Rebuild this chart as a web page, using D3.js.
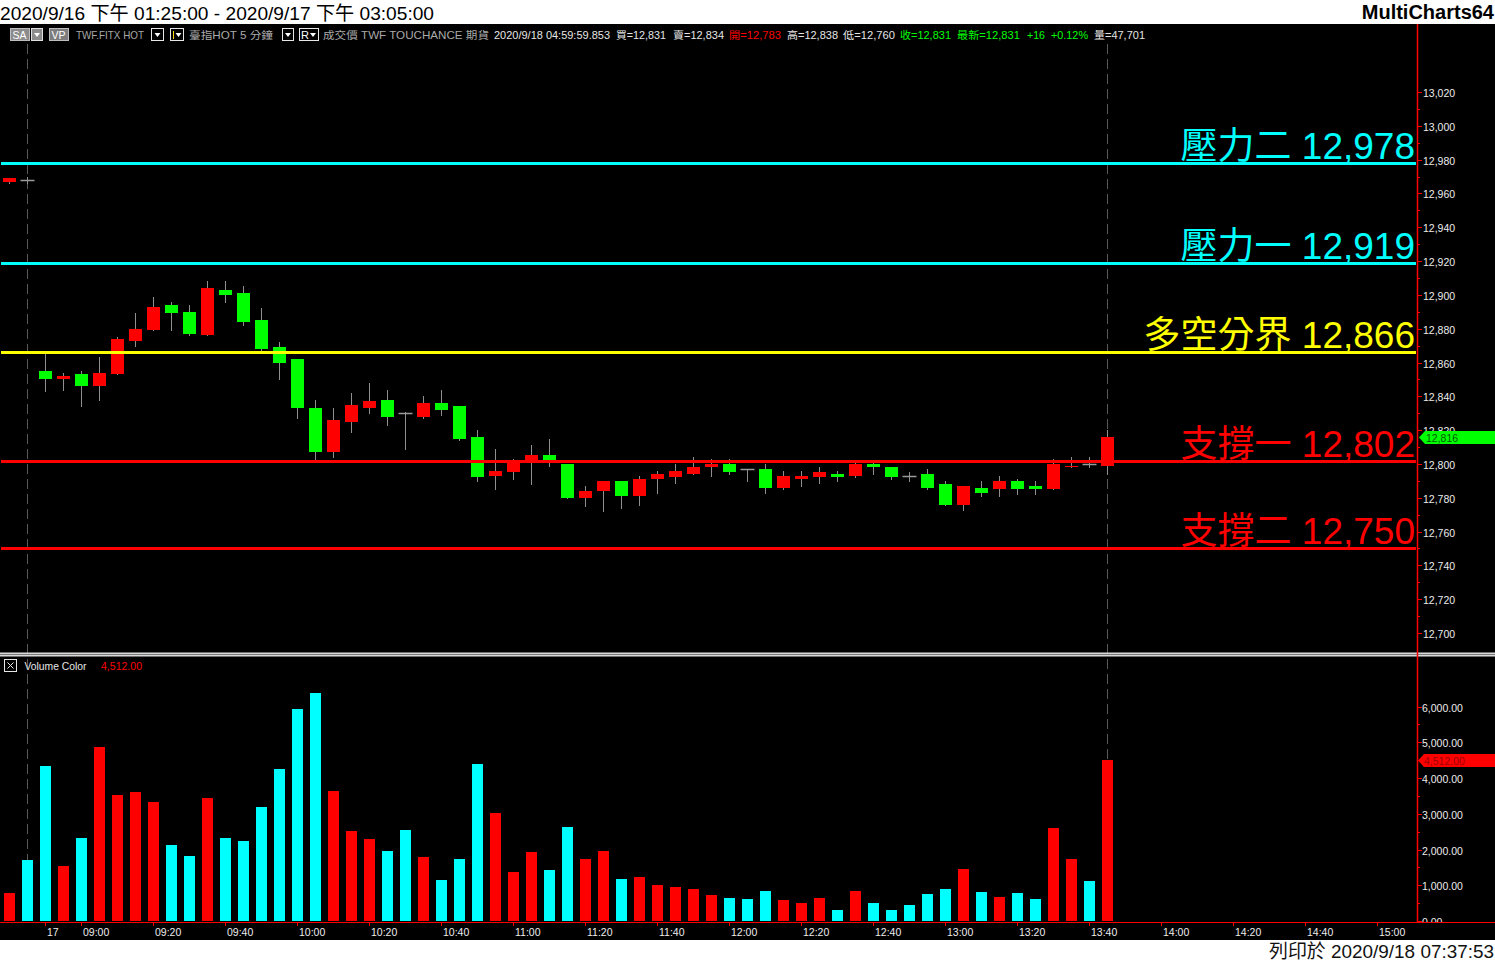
<!DOCTYPE html>
<html><head><meta charset="utf-8">
<script src="https://cdn.jsdelivr.net/npm/d3@7"></script>
<style>
html,body{margin:0;padding:0;background:#fff;overflow:hidden}
svg{display:block}
text{font-family:"Liberation Sans","Noto Sans CJK TC",sans-serif}
</style></head><body>
<svg id="c" width="1495" height="962"></svg>
<script>
// ---------------- DATA ----------------
const times = ["9/16 13:40","9/16 13:45",
 "08:50","08:55","09:00","09:05","09:10","09:15","09:20","09:25","09:30","09:35",
 "09:40","09:45","09:50","09:55","10:00","10:05","10:10","10:15","10:20","10:25",
 "10:30","10:35","10:40","10:45","10:50","10:55","11:00","11:05","11:10","11:15",
 "11:20","11:25","11:30","11:35","11:40","11:45","11:50","11:55","12:00","12:05",
 "12:10","12:15","12:20","12:25","12:30","12:35","12:40","12:45","12:50","12:55",
 "13:00","13:05","13:10","13:15","13:20","13:25","13:30","13:35","13:40","13:45"];
const futureSlots = ["13:50","13:55","14:00","14:05","14:10","14:15","14:20","14:25",
 "14:30","14:35","14:40","14:45","14:50","14:55","15:00","15:05","15:10"];
const opens  = [12967,12968,12855,12850,12853,12846,12853,12873,12879,12894,12890,12876,12903,12901,12885,12869,12862,12833,12807,12825,12833,12838,12830,12828,12836,12834,12816,12793,12795,12802,12805,12800,12780,12784,12790,12781,12791,12792,12794,12798,12800,12797,12797,12786,12791,12792,12794,12793,12800,12798,12793,12794,12788,12776,12786,12785,12790,12787,12785,12798,12800,12799];
const highs  = [12969,12970,12865,12854,12855,12863,12875,12889,12899,12896,12894,12908,12908,12905,12892,12872,12862,12838,12833,12842,12848,12844,12831,12840,12844,12834,12820,12809,12803,12811,12815,12800,12787,12790,12790,12793,12796,12800,12804,12803,12803,12797,12800,12796,12796,12798,12796,12801,12801,12798,12795,12797,12790,12787,12790,12793,12791,12790,12803,12804,12804,12820];
const lows   = [12966,12966,12843,12844,12834,12838,12853,12870,12879,12879,12876,12876,12896,12882,12867,12850,12827,12803,12804,12819,12830,12823,12809,12827,12829,12814,12790,12785,12791,12788,12799,12780,12775,12772,12774,12776,12783,12789,12794,12793,12794,12790,12783,12785,12787,12789,12790,12792,12794,12791,12790,12785,12776,12773,12781,12781,12782,12782,12785,12798,12798,12794];
const closes = [12969,12968,12850,12852,12846,12854,12874,12880,12893,12889,12877,12904,12900,12884,12868,12860,12833,12807,12826,12835,12837,12828,12830,12836,12832,12815,12792,12796,12802,12805,12802,12780,12784,12790,12781,12791,12794,12796,12798,12800,12795,12797,12786,12793,12793,12795,12792,12800,12798,12792,12793,12786,12776,12787,12783,12790,12785,12785,12800,12799,12800,12816];
const volumes = [780,1700,4330,1540,2320,4860,3520,3600,3320,2120,1820,3440,2320,2240,3180,4250,5920,6370,3630,2510,2290,1950,2540,1790,1150,1730,4390,3020,1370,1930,1430,2630,1730,1960,1170,1230,1010,950,890,730,640,620,840,590,500,640,310,840,500,310,450,750,890,1450,810,670,780,620,2600,1730,1120,4512];

const timeTickSlots  = ["08:50","09:00","09:20","09:40","10:00","10:20","10:40","11:00","11:20","11:40","12:00","12:20","12:40","13:00","13:20","13:40","14:00","14:20","14:40","15:00"];
const timeTickLabels = ["17","09:00","09:20","09:40","10:00","10:20","10:40","11:00","11:20","11:40","12:00","12:20","12:40","13:00","13:20","13:40","14:00","14:20","14:40","15:00"];
const priceTicks  = [12700,12720,12740,12760,12780,12800,12820,12840,12860,12880,12900,12920,12940,12960,12980,13000,13020];
const volumeTicks = [0,1000,2000,3000,4000,5000,6000];

const levelNames  = ["壓力二","壓力一","多空分界","支撐一","支撐二"];
const levelValues = [12978,12919,12866,12802,12750];

const titleText  = "2020/9/16 下午 01:25:00 - 2020/9/17 下午 03:05:00";
const brandText  = "MultiCharts64";
const printText  = "列印於 2020/9/18 07:37:53";
const lastPrice  = 12816;
const lastVolume = 4512;

// ---------------- DRAW ----------------
const W = 1495, H = 962;
const svg = d3.select("#c");
svg.append("rect").attr("width", W).attr("height", H).attr("fill", "#fff");
svg.append("rect").attr("x", 0).attr("y", 24).attr("width", W).attr("height", 916).attr("fill", "#000");

const levelColors = ["#00ffff","#00ffff","#ffff00","#ff0000","#ff0000"];
const axisX = 1417;

const bars = times.map((t, i) => ({t, o: opens[i], h: highs[i], l: lows[i], c: closes[i], v: volumes[i]}));
const slots = times.concat(futureSlots);
const x = d3.scalePoint().domain(slots).range([9.5, 9.5 + 18 * (slots.length - 1)]);
const y = d3.scaleLinear().domain([12700, 13020]).range([633, 92]);
const vy = d3.scaleLinear().domain([0, 6000]).range([921, 706.5]);

const fmt = d3.format(",");
const fmt2 = d3.format(",.2f");

// title bar
svg.append("text").attr("x", 0).attr("y", 20).attr("font-size", 19).attr("fill", "#000")
  .attr("textLength", 434).attr("lengthAdjust", "spacingAndGlyphs").text(titleText);
svg.append("text").attr("x", 1494).attr("y", 19).attr("text-anchor", "end").attr("font-size", 20)
  .attr("font-weight", "bold").attr("fill", "#000").text(brandText);
svg.append("text").attr("x", 1494).attr("y", 958).attr("text-anchor", "end").attr("font-size", 19)
  .attr("fill", "#111").attr("textLength", 225).attr("lengthAdjust", "spacingAndGlyphs").text(printText);

// info line
const info = svg.append("g");
function box(x0, w, fill, stroke) {
  info.append("rect").attr("x", x0 + 0.5).attr("y", 28.5).attr("width", w).attr("height", 12)
    .attr("fill", fill).attr("stroke", stroke);
}
function tri(cx) {
  info.append("path").attr("d", `M${cx-3},33 L${cx+3},33 L${cx},37 Z`).attr("fill", "#fff");
}
function itxt(x0, w, s, col, size) {
  info.append("text").attr("x", x0).attr("y", 39).attr("font-size", size || 10.5).attr("fill", col)
    .attr("textLength", w).attr("lengthAdjust", "spacingAndGlyphs").text(s);
}
box(10, 19, "#8c8c8c", "#bdbdbd"); itxt(12.5, 14, "SA", "#fff");
box(31, 11, "#8c8c8c", "#e0e0e0"); tri(37);
box(49, 19, "#7d7d7d", "#bdbdbd"); itxt(51.5, 14, "VP", "#fff");
itxt(76, 68, "TWF.FITX HOT", "#a9a9a9");
box(151, 12, "#000", "#e8e8e8"); tri(157.5);
box(170, 13, "#000", "#e8e8e8");
info.append("line").attr("x1", 173.5).attr("x2", 173.5).attr("y1", 31).attr("y2", 39).attr("stroke", "#ffd200");
tri(178.5);
itxt(189, 84, "臺指HOT  5 分鐘", "#a9a9a9");
box(282, 11, "#000", "#e8e8e8"); tri(288);
box(299, 19, "#000", "#e8e8e8"); itxt(301, 8, "R", "#fff"); tri(313);
itxt(323, 166, "成交價  TWF  TOUCHANCE  期貨", "#a9a9a9");
itxt(494, 116, "2020/9/18  04:59:59.853", "#e6e6e6", 10);
itxt(616, 50, "買=12,831", "#e6e6e6");
itxt(673, 51, "賣=12,834", "#e6e6e6");
itxt(729, 52, "開=12,783", "#ff0000");
itxt(787, 51, "高=12,838", "#e6e6e6");
itxt(843, 52, "低=12,760", "#e6e6e6");
itxt(900, 51, "收=12,831", "#00ff00");
itxt(957, 63, "最新=12,831", "#00ff00");
itxt(1027, 18, "+16", "#00ff00");
itxt(1051, 37, "+0.12%", "#00ff00");
itxt(1094, 51, "量=47,701", "#e6e6e6");

// dashed vertical session / cursor lines
[times[1], times[times.length - 1]].forEach(t => {
  svg.append("line").attr("x1", x(t)).attr("x2", x(t)).attr("y1", 44).attr("y2", 921)
    .attr("stroke", "#5a5a5a").attr("stroke-dasharray", "10,5");
});

// price pane
const price = svg.append("g");
const cColor = d => d.c > d.o ? "#ff0000" : d.c < d.o ? "#00ff00" : "#9a9a9a";
price.selectAll("line.wick").data(bars).join("line").attr("class", "wick")
  .attr("x1", d => x(d.t)).attr("x2", d => x(d.t))
  .attr("y1", d => Math.round(y(d.h))).attr("y2", d => Math.round(y(d.l)) + 1)
  .attr("stroke", "#8f8f8f").attr("stroke-width", 1);
price.selectAll("rect.body").data(bars.filter(d => d.o !== d.c)).join("rect").attr("class", "body")
  .attr("x", d => x(d.t) - 6.5).attr("width", 13)
  .attr("y", d => Math.round(y(Math.max(d.o, d.c))))
  .attr("height", d => Math.max(1, Math.round(y(Math.min(d.o, d.c))) - Math.round(y(Math.max(d.o, d.c)))))
  .attr("fill", cColor);
price.selectAll("line.doji").data(bars.filter(d => d.o === d.c)).join("line").attr("class", "doji")
  .attr("x1", d => x(d.t) - 7).attr("x2", d => x(d.t) + 7)
  .attr("y1", d => Math.round(y(d.o)) + 0.5).attr("y2", d => Math.round(y(d.o)) + 0.5)
  .attr("stroke", "#9a9a9a").attr("stroke-width", 1.5);

// level lines and labels
const lv = svg.append("g");
levelValues.forEach((v, i) => {
  const yy = Math.round(y(v)) + 0.5;
  lv.append("line").attr("x1", 1).attr("x2", axisX - 1).attr("y1", yy).attr("y2", yy)
    .attr("stroke", levelColors[i]).attr("stroke-width", 3);
  lv.append("text").attr("x", 1415).attr("y", yy - 5).attr("text-anchor", "end")
    .attr("font-size", 37).attr("fill", levelColors[i]).text(levelNames[i] + " " + fmt(v));
});

// pane separator
svg.append("rect").attr("x", 0).attr("y", 652.5).attr("width", W).attr("height", 4).attr("fill", "#d9d9d9");
svg.append("line").attr("x1", 0).attr("x2", W).attr("y1", 654.5).attr("y2", 654.5).attr("stroke", "#7a7a7a");

// price axis
const pa = svg.append("g");
priceTicks.forEach((v, i) => {
  const yy = Math.round(y(v)) + 0.5;
  pa.append("line").attr("x1", axisX).attr("x2", axisX + 5).attr("y1", yy).attr("y2", yy).attr("stroke", "#ff0000");
  pa.append("text").attr("x", 1423).attr("y", yy + 4).attr("font-size", 10.5).attr("fill", "#ececec").text(fmt(v));
  if (i < priceTicks.length - 1) {
    const ym = Math.round(y((v + priceTicks[i + 1]) / 2)) + 0.5;
    pa.append("line").attr("x1", axisX).attr("x2", axisX + 3).attr("y1", ym).attr("y2", ym).attr("stroke", "#ff0000");
  }
});
// last price marker
const ly = Math.round(y(lastPrice)) + 0.5;
pa.append("path").attr("d", `M1419,${ly} L1425,${ly-6.5} L1495,${ly-6.5} L1495,${ly+6.5} L1425,${ly+6.5} Z`).attr("fill", "#00ff00");
pa.append("text").attr("x", 1426).attr("y", ly + 4).attr("font-size", 10.5).attr("fill", "#005a00").text(fmt(lastPrice));

// volume pane header
const vh = svg.append("g");
vh.append("rect").attr("x", 4.5).attr("y", 659.5).attr("width", 12).attr("height", 12).attr("fill", "none").attr("stroke", "#e6e6e6");
vh.append("path").attr("d", "M7.5,662.5 L13.5,668.5 M13.5,662.5 L7.5,668.5").attr("stroke", "#e6e6e6");
vh.append("text").attr("x", 24.5).attr("y", 670).attr("font-size", 10.5).attr("fill", "#e6e6e6")
  .attr("textLength", 62).attr("lengthAdjust", "spacingAndGlyphs").text("Volume Color");
vh.append("text").attr("x", 101).attr("y", 670).attr("font-size", 10.5).attr("fill", "#ff0000")
  .attr("textLength", 41).attr("lengthAdjust", "spacingAndGlyphs").text(fmt2(lastVolume));

// volume bars
const vColor = d => d.c > d.o ? "#ff0000" : "#00ffff";
svg.append("g").selectAll("rect").data(bars).join("rect")
  .attr("x", d => x(d.t) - 5.5).attr("width", 11)
  .attr("y", d => Math.round(vy(d.v))).attr("height", d => 921 - Math.round(vy(d.v)))
  .attr("fill", vColor);

// volume axis
svg.append("clipPath").attr("id", "vclip").append("rect").attr("x", 1418).attr("y", 657).attr("width", 80).attr("height", 265);
const va = svg.append("g");
const vat = va.append("g").attr("clip-path", "url(#vclip)");
volumeTicks.forEach((v, i) => {
  const yy = Math.round(vy(v)) + 0.5;
  va.append("line").attr("x1", axisX).attr("x2", axisX + 5).attr("y1", yy).attr("y2", yy).attr("stroke", "#ff0000");
  vat.append("text").attr("x", 1422).attr("y", yy + 4).attr("font-size", 10.5).attr("fill", "#ececec").text(fmt2(v));
  if (i < volumeTicks.length - 1) {
    const ym = Math.round(vy((v + volumeTicks[i + 1]) / 2)) + 0.5;
    va.append("line").attr("x1", axisX).attr("x2", axisX + 3).attr("y1", ym).attr("y2", ym).attr("stroke", "#ff0000");
  }
});
const lvy = Math.round(vy(lastVolume)) + 0.5;
va.append("path").attr("d", `M1418,${lvy} L1424,${lvy-6.5} L1495,${lvy-6.5} L1495,${lvy+6.5} L1424,${lvy+6.5} Z`).attr("fill", "#ff0000");
va.append("text").attr("x", 1424).attr("y", lvy + 4).attr("font-size", 10.5).attr("fill", "#a00000").text(fmt2(lastVolume));

// axes lines
svg.append("line").attr("x1", axisX + 0.5).attr("x2", axisX + 0.5).attr("y1", 24).attr("y2", 922).attr("stroke", "#ff0000").attr("stroke-width", 1.5);
svg.append("line").attr("x1", 0).attr("x2", W).attr("y1", 922.5).attr("y2", 922.5).attr("stroke", "#ff0000");

// time axis
const ta = svg.append("g");
timeTickSlots.forEach((t, i) => {
  const xx = x(t);
  ta.append("line").attr("x1", xx).attr("x2", xx).attr("y1", 922).attr("y2", 926).attr("stroke", "#ff0000");
  ta.append("text").attr("x", xx + 1.5).attr("y", 936).attr("font-size", 10.5).attr("fill", "#ececec").text(timeTickLabels[i]);
});
</script>
</body></html>
